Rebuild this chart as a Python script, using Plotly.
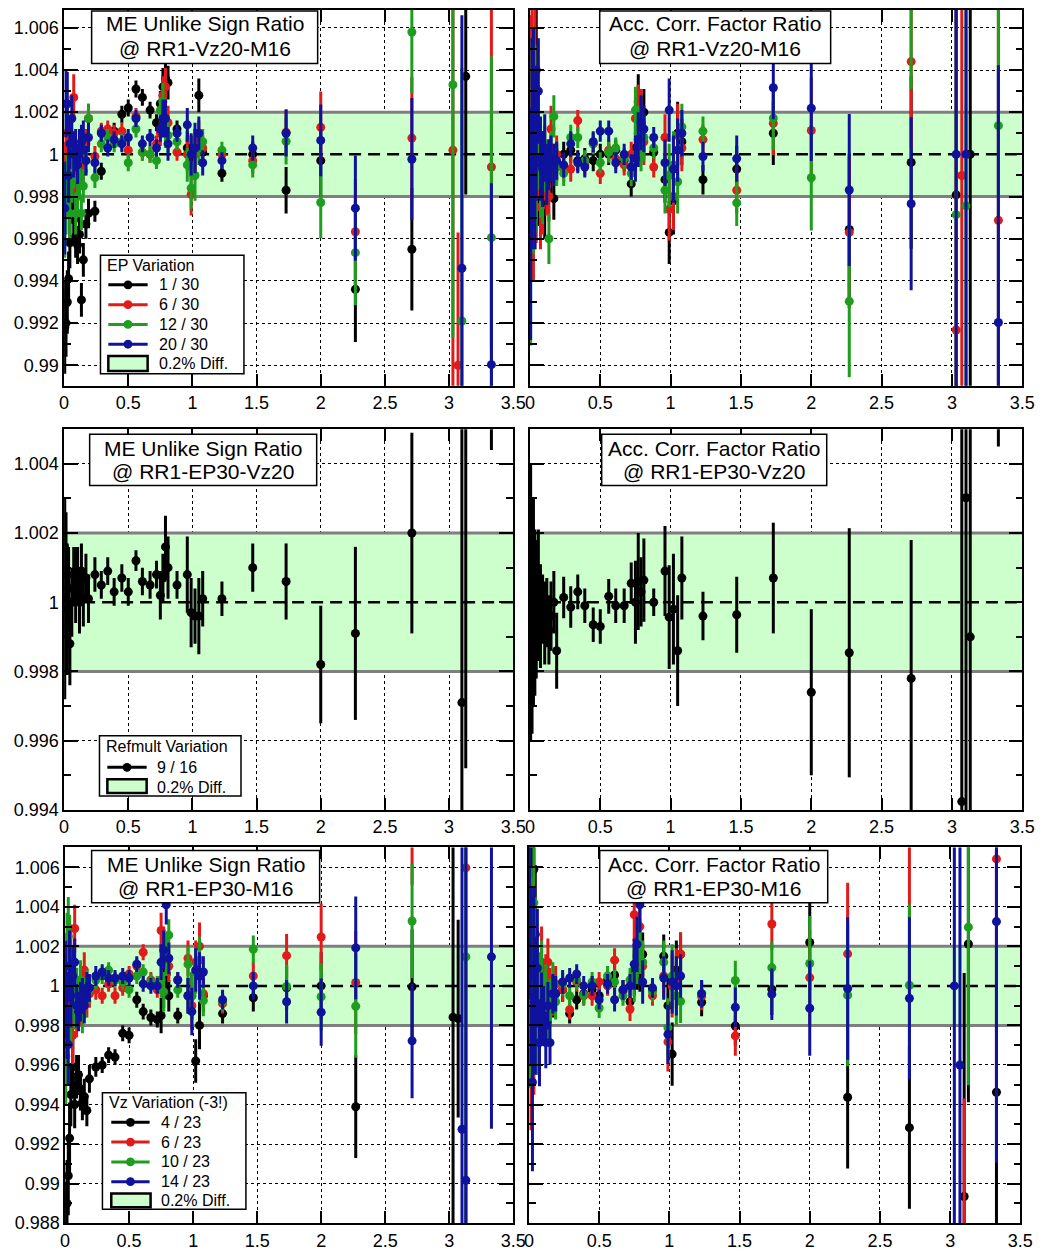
import plotly.graph_objects as go

W, H = 1060, 1259          # browser window
OFF = 8                    # default page (body) margin
FW, FH = W - 2 * OFF, H - 2 * OFF   # figure size so the page fits exactly, no overflow

# ---------------- data ----------------
X_BINS = [0.005, 0.015, 0.025, 0.035, 0.045,
          0.06, 0.075, 0.09, 0.105, 0.12,
          0.135, 0.15, 0.17, 0.19, 0.24,
          0.29, 0.34, 0.39, 0.45, 0.50,
          0.56, 0.61, 0.67, 0.72, 0.75,
          0.77, 0.79, 0.81, 0.88, 0.96,
          0.99, 1.02, 1.05, 1.08, 1.23,
          1.47, 1.73, 2.00, 2.27, 2.71,
          3.03, 3.07, 3.10, 3.13, 3.33]

# Top-left: ME Unlike Sign Ratio @ RR1-Vz20-M16 (EP variation)
TL_BLACK = [0.9918, 0.9920, 0.9930, 0.9941, 0.9958,
            0.9980, 0.9969, 0.9961, 0.9957, 0.9962,
            0.9931, 0.9950, 0.9967, 0.9972, 0.9973,
            0.9992, 1.0010, 1.0011, 1.0019, 1.0022,
            1.0031, 1.0027, 1.0021, 1.0015, 1.0024,
            1.0032, 1.0036, 1.0034, 1.0012, 1.0003,
            0.9999, 1.0000, 1.0028, 1.0001, 0.9991,
            1.0000, 0.9983, 0.9997, 0.9936, 0.9955,
            None, None, None, 1.0037, None]
TL_RED = [0.9984, 0.9996, 1.0010, 1.0003, 0.9992,
          0.9990, 1.0027, 0.9982, 0.9991, 1.0002,
          0.9995, 0.9992, 1.0005, 1.0017, 0.9999,
          1.0011, 1.0012, 1.0010, 1.0011, 1.0002,
          1.0018, 1.0001, 1.0000, 1.0005, 1.0010,
          1.0028, 1.0032, 1.0015, 1.0001, 1.0000,
          0.9981, 1.0000, 1.0008, 1.0003, 1.0000,
          0.9997, 1.00105, 1.00128, 0.99633, 1.00077,
          1.0002, 0.9900, None, None, 0.9994]
TL_GREEN = [0.9973, 0.9978, 0.9985, 0.9990, 0.9972,
            0.9988, 0.9995, 0.9972, 0.9980, 0.9990,
            0.9972, 0.9985, 0.9997, 1.0017, 0.9989,
            1.0005, 1.0008, 1.0005, 1.0006, 0.9996,
            1.0012, 1.0001, 1.0000, 0.9997, 1.0021,
            1.0025, 1.0012, 1.0009, 1.0006, 0.9995,
            0.9984, 0.9990, 1.0003, 1.0006, 1.0002,
            0.9995, 1.00062, 0.99772, 0.99534, 1.0058,
            1.0033, None, 0.9921, None, 0.99605]
TL_BLUE = [0.99745, 1.0024, 1.0024, 0.9990, 1.0005,
           1.0017, 1.0000, 1.0002, 0.9995, 1.0003,
           1.0006, 1.0008, 0.9997, 1.0008, 0.9996,
           1.0010, 1.0003, 1.0007, 1.0005, 1.0008,
           1.0017, 1.0005, 1.0008, 1.0003, 1.0012,
           1.0017, 1.0017, 1.0005, 1.0010, 1.0014,
           1.0000, 1.0003, 1.0010, 0.9996, 0.9997,
           1.0003, 1.0010, 1.00066, 0.99745, 0.99977,
           None, None, 0.9946, None, 0.99003]
TL_ERR = [0.0022, 0.0016, 0.0015, 0.0013, 0.0012,
          0.0011, 0.0011, 0.0010, 0.0009, 0.0009,
          0.0008, 0.0008, 0.0007, 0.0007, 0.0005,
          0.0004, 0.0004, 0.0004, 0.0004, 0.0004,
          0.0004, 0.0004, 0.0004, 0.0004, 0.0006,
          0.0009, 0.0009, 0.0008, 0.0004, 0.0008,
          0.0010, 0.0012, 0.0008, 0.0006, 0.0004,
          0.0006, 0.0011, 0.0017, 0.0025, 0.0029,
          0.0120, 0.0063, 0.0120, 0.0056, 0.0086]

# Top-right: Acc. Corr. Factor Ratio @ RR1-Vz20-M16
TR_BLACK = [1.0000, 0.9990, 1.0008, 0.9995, 1.0040,
            0.9991, 0.9985, 0.9993, 0.9976, 0.9990,
            0.9995, 0.9992, 0.9979, 0.9996, 1.0000,
            1.0002, 0.9997, 0.9998, 0.9997, 1.0000,
            1.0000, 1.0002, 0.9997, 0.9986, 1.0003,
            1.0025, 1.0015, 1.0020, 1.0001, 0.9988,
            0.9963, 0.9978, 1.0010, 1.0006, 0.9988,
            0.9993, 1.0010, None, 0.99644, 0.99962,
            0.99808, None, None, 1.0000, None]
TR_RED = [1.0011, 1.0020, 0.9985, 1.0030, 0.9990,
          1.0005, 0.9975, 0.9980, 0.9995, 0.9985,
          0.9980, 1.0012, 0.9995, 1.0000, 0.9993,
          0.9993, 1.0016, 0.9995, 1.0005, 0.9991,
          1.0002, 0.9998, 0.9995, 1.0000, 1.0017,
          1.0020, 1.0018, 1.0006, 0.9994, 1.0008,
          0.9974, 0.9980, 1.0009, 1.0003, 1.0007,
          0.9983, 1.00147, 1.00113, 0.9963, 1.0044,
          0.99167, 0.9990, None, None, 0.99687]
TR_GREEN = [0.99644, 1.0005, 0.9998, 1.0012, 0.9995,
            1.0008, 0.9990, 0.9985, 0.9998, 0.9993,
            0.9960, 1.0000, 1.0018, 0.9994, 0.9991,
            1.0008, 1.0008, 0.9997, 1.0005, 0.9996,
            1.0001, 1.0003, 0.9998, 0.9991, 1.0021,
            1.0010, 1.0005, 1.0008, 1.0003, 0.9983,
            0.9990, 0.9995, 0.9987, 1.0013, 1.0011,
            0.9977, 1.00172, 0.99889, 0.99303, 1.0072,
            0.99714, None, 0.99756, None, 1.00136]
TR_BLUE = [0.9967, 1.0005, 1.0015, 0.9995, 1.0010,
           1.0030, 0.9998, 0.9993, 1.0003, 0.9990,
           0.9995, 0.9998, 0.9995, 0.9997, 0.9995,
           1.0005, 0.9996, 0.9994, 1.0006, 1.0011,
           1.0011, 0.9996, 1.0000, 0.9994, 0.9998,
           1.0007, 1.0015, 1.0012, 1.0008, 0.9996,
           1.0021, 0.9993, 1.0002, 1.0010, 0.9999,
           0.9998, 1.00316, 1.00219, 0.99831, 0.99766,
           1.0000, None, 1.0000, None, 0.99203]
TR_ERR = [0.0055, 0.0050, 0.0045, 0.0040, 0.0032,
          0.0025, 0.0020, 0.0018, 0.0016, 0.0014,
          0.0012, 0.0011, 0.0010, 0.0009, 0.0006,
          0.0006, 0.0005, 0.0005, 0.0005, 0.0005,
          0.0005, 0.0005, 0.0005, 0.0006, 0.0011,
          0.0013, 0.0013, 0.0011, 0.0005, 0.0011,
          0.0015, 0.0016, 0.0015, 0.0011, 0.0007,
          0.0011, 0.0015, 0.0025, 0.0036, 0.0041,
          0.0200, 0.0200, 0.0200, 0.0200, 0.0122]

# Middle-left: ME Unlike Sign Ratio @ RR1-EP30-Vz20 (Refmult variation)
ML_BLACK = [1.0001, 1.0008, 0.9998, 1.0004, 0.9988,
            1.0000, 1.0008, 1.0005, 1.0008, 1.0000,
            1.0009, 1.0001, 1.0007, 1.0001, 1.0008,
            1.0005, 1.0009, 1.0003, 1.0007, 1.0003,
            1.0012, 1.0006, 1.0005, 1.0008, 1.0002,
            1.0007, 1.0016, 1.0010, 1.0005, 1.0008,
            0.9997, 0.9996, 0.9996, 1.0001, 1.0001,
            1.0010, 1.0006, 0.9982, 0.9991, 1.0020,
            None, None, 0.9971, 1.0060, 1.0090]
ML_ERR = [0.0029, 0.0018, 0.0019, 0.0012, 0.0012,
          0.0010, 0.0008, 0.0011, 0.0008, 0.0009,
          0.0008, 0.0008, 0.0007, 0.0007, 0.0005,
          0.0004, 0.0004, 0.0004, 0.0004, 0.0004,
          0.0003, 0.0004, 0.0004, 0.0004, 0.0007,
          0.0007, 0.0009, 0.0009, 0.0004, 0.0011,
          0.0010, 0.0008, 0.0011, 0.0008, 0.0005,
          0.0007, 0.0011, 0.0017, 0.0025, 0.0029,
          0.0000, 0.0000, 0.0090, 0.0108, 0.0046]

# Middle-right: Acc. Corr. Factor Ratio @ RR1-EP30-Vz20
MR_BLACK = [1.0000, 0.9995, 1.0000, 0.9997, 0.9998,
            1.0002, 0.9996, 0.9998, 0.9994, 0.9997,
            0.9992, 0.9996, 1.0000, 0.9986, 1.00014,
            0.99986, 1.0003, 0.9999, 0.99935, 0.9993,
            1.00017, 0.9999, 0.9999, 1.00055, 1.0000,
            1.0006, 1.0003, 1.00064, 1.0000, 1.0009,
            0.99957, 0.9998, 0.9986, 1.0007, 0.9996,
            0.99964, 1.0007, 0.9974, 0.99854, 0.9978,
            None, 0.99424, 1.00302, 0.9990, 1.0085]
MR_ERR = [0.0040, 0.0033, 0.0030, 0.0024, 0.0020,
          0.0019, 0.0015, 0.0010, 0.0012, 0.0010,
          0.0010, 0.0010, 0.0009, 0.0011, 0.0006,
          0.0006, 0.0005, 0.0005, 0.0005, 0.0005,
          0.0005, 0.0005, 0.0005, 0.0006, 0.0012,
          0.0014, 0.0010, 0.0012, 0.0004, 0.0013,
          0.0015, 0.0016, 0.0016, 0.0012, 0.0007,
          0.0011, 0.0016, 0.0024, 0.0036, 0.0040,
          0.0000, 0.0120, 0.0120, 0.0200, 0.0040]

# Bottom-left: ME Unlike Sign Ratio @ RR1-EP30-M16 (Vz variation)
BL_BLACK = [0.9876, 0.9890, 0.9904, 0.9923, 0.9945,
            0.9959, 0.9940, 0.9954, 0.9955, 0.9947,
            0.9941, 0.9944, 0.9937, 0.9953, 0.9959,
            0.9960, 0.9965, 0.9964, 0.9976, 0.9975,
            0.9993, 0.9987, 0.9984, 0.9983, 0.9985,
            0.9999, 1.0006, 0.9995, 0.9985, 0.9995,
            0.9995, 0.9962, 0.9980, 0.9995, 0.9986,
            0.9994, 0.9999, 1.0000, 0.99389, 0.99995,
            0.99842, 0.99835, None, None, None]
BL_RED = [0.9992, 0.9980, 1.0010, 0.9988, 1.0015,
          0.9975, 1.0029, 0.9985, 0.9995, 0.9990,
          1.0000, 1.0008, 0.9992, 0.9996, 0.9998,
          0.9995, 1.0001, 0.9995, 0.9999, 1.0006,
          1.0010, 1.0017, 1.0003, 0.9998, 1.0028,
          1.0020, 1.0015, 1.0010, 1.0003, 1.0014,
          0.9990, 1.0012, 1.0020, 0.9996, 0.9991,
          1.0005, 1.00153, 1.00247, 1.00017, 1.0080,
          None, None, None, 1.00597, None]
BL_GREEN = [0.99644, 1.0015, 1.0025, 1.0018, 0.9985,
            1.0005, 0.9990, 0.9998, 0.9993, 1.0003,
            0.9985, 0.9995, 1.0000, 0.9998, 1.0003,
            1.0005, 1.0008, 1.0003, 1.0002, 0.9998,
            1.0005, 1.0007, 1.0002, 1.0001, 1.0003,
            0.9997, 1.0015, 1.00257, 0.9998, 1.0011,
            0.9995, 1.0007, 1.0013, 0.99926, 0.9992,
            1.00185, 0.99997, 0.99945, 0.99897, 1.00328,
            None, None, None, 1.00147, None]
BL_BLUE = [0.9998, 0.9985, 0.99703, 1.0010, 0.9995,
           1.0005, 1.0012, 0.9990, 0.9987, 0.9992,
           0.9995, 0.9990, 0.9999, 0.9999, 1.0005,
           1.0007, 1.0004, 1.0004, 1.0005, 1.0004,
           1.0011, 1.0001, 1.0000, 1.0000, 1.0012,
           1.0018, 1.0041, 1.0014, 1.0003, 0.9995,
           0.9987, 1.0008, 1.0005, 1.0007, 0.9993,
           1.0000, 0.9992, 0.99867, 1.00192, 0.99722,
           None, None, 0.99275, 0.99017, 1.00147]
BL_ERR = [0.0025, 0.0022, 0.0020, 0.0018, 0.0016,
          0.0015, 0.0012, 0.0011, 0.0010, 0.0010,
          0.0009, 0.0009, 0.0008, 0.0007, 0.0005,
          0.0004, 0.0004, 0.0004, 0.0004, 0.0004,
          0.0004, 0.0004, 0.0004, 0.0004, 0.0009,
          0.0010, 0.0010, 0.0008, 0.0004, 0.0009,
          0.0012, 0.0011, 0.0012, 0.0008, 0.0005,
          0.0007, 0.0011, 0.0017, 0.0026, 0.0029,
          0.0200, 0.0050, 0.0200, 0.0200, 0.0087]

# Bottom-right: Acc. Corr. Factor Ratio @ RR1-EP30-M16
BR_BLACK = [1.0030, 1.0010, 1.0040, 1.0059, 1.0026,
            0.9990, 0.9985, 0.9993, 0.9990, 0.9985,
            0.9990, 0.9992, 0.9994, 0.9996, 0.9998,
            0.9986, 0.9993, 0.9996, 0.9998, 0.9995,
            1.0003, 1.00055, 0.9998, 0.9992, 1.0008,
            1.0012, 1.0011, 1.0016, 0.9998, 1.0015,
            0.9990, 0.99655, 1.0008, 1.0016, 0.99917,
            0.99797, 0.99983, 1.0022, 0.99437, 0.99283,
            None, None, 0.98935, 1.00212, 0.99462]
BR_RED = [1.0020, 0.9972, 1.0010, 0.9985, 1.0005,
          0.9990, 0.9980, 1.0012, 0.9995, 1.0003,
          1.0012, 0.9998, 0.9995, 1.0001, 0.9998,
          0.9988, 1.0002, 0.9995, 0.9995, 1.0002,
          1.0000, 1.0013, 0.9997, 0.99883, 1.0036,
          1.0023, 1.0030, 1.0010, 0.9995, 1.0005,
          0.99717, 1.0000, 1.0004, 1.0016, 0.99947,
          0.99747, 1.00313, 1.00042, 1.00162, 1.0075,
          None, None, 0.9830, None, 1.00642]
BR_GREEN = [0.99983, 1.0015, 0.9990, 1.0042, 1.0010,
            0.9985, 0.9995, 1.0005, 0.9990, 0.9998,
            0.9985, 0.9992, 1.0002, 0.9992, 1.0001,
            0.9995, 1.0003, 0.99955, 1.0002, 0.99888,
            1.0005, 1.0002, 0.9995, 1.0003, 1.0005,
            1.0015, 1.0020, 1.0012, 0.9997, 1.0012,
            0.99788, 1.0005, 0.9995, 0.99922, 0.9996,
            1.00027, 1.00092, 1.00113, 0.99953, 1.00003,
            None, None, None, 1.00297, None]
BR_BLUE = [1.00433, 1.0005, 0.99513, 1.0010, 0.9990,
           1.0009, 0.99713, 0.99888, 0.9985, 0.99713,
           0.9990, 0.99713, 0.9996, 0.9996, 1.0002,
           1.0004, 1.0006, 1.0000, 1.0000, 0.9993,
           1.0001, 0.9993, 0.9998, 1.0000, 1.0011,
           1.0021, 1.0041, 1.0002, 0.9999, 1.0004,
           0.99755, 1.0002, 1.0000, 1.0005, 0.9996,
           0.99892, 0.99958, 0.99887, 0.99987, 0.99937,
           1.0000, 0.9960, None, None, 1.00325]
BR_ERR = [0.0050, 0.0045, 0.0045, 0.0040, 0.0035,
          0.0030, 0.0022, 0.0018, 0.0015, 0.0013,
          0.0012, 0.0011, 0.0010, 0.0009, 0.0006,
          0.0005, 0.0005, 0.0005, 0.0005, 0.0005,
          0.0005, 0.0006, 0.0005, 0.0006, 0.0013,
          0.0014, 0.0014, 0.0011, 0.0005, 0.0011,
          0.0015, 0.0016, 0.0015, 0.0011, 0.0007,
          0.0010, 0.0013, 0.0024, 0.0036, 0.0041,
          0.0200, 0.0200, 0.0113, 0.0080, 0.0122]

X_TICKS = [0, 0.5, 1, 1.5, 2, 2.5, 3, 3.5]
X_TICK_TEXT = ["0", "0.5", "1", "1.5", "2", "2.5", "3", "3.5"]
Y_TICKS_TOP = [0.99, 0.992, 0.994, 0.996, 0.998, 1.0, 1.002, 1.004, 1.006]
Y_TICKS_TOP_TEXT = ["0.99", "0.992", "0.994", "0.996", "0.998", "1", "1.002", "1.004", "1.006"]
Y_TICKS_MID = [0.994, 0.996, 0.998, 1.0, 1.002, 1.004]
Y_TICKS_MID_TEXT = ["0.994", "0.996", "0.998", "1", "1.002", "1.004"]
Y_TICKS_BOT = [0.988, 0.99, 0.992, 0.994, 0.996, 0.998, 1.0, 1.002, 1.004, 1.006]
Y_TICKS_BOT_TEXT = ["0.988", "0.99", "0.992", "0.994", "0.996", "0.998", "1", "1.002", "1.004", "1.006"]
Y_MINOR = [0.989, 0.991, 0.993, 0.995, 0.997, 0.999, 1.001, 1.003, 1.005]

TITLES = [("ME Unlike Sign Ratio", "@ RR1-Vz20-M16"),
          ("Acc. Corr. Factor Ratio", "@ RR1-Vz20-M16"),
          ("ME Unlike Sign Ratio", "@ RR1-EP30-Vz20"),
          ("Acc. Corr. Factor Ratio", "@ RR1-EP30-Vz20"),
          ("ME Unlike Sign Ratio", "@ RR1-EP30-M16"),
          ("Acc. Corr. Factor Ratio", "@ RR1-EP30-M16")]

LEG_TL_TITLE = "EP Variation"
LEG_TL_LABELS = ["1 / 30", "6 / 30", "12 / 30", "20 / 30"]
LEG_ML_TITLE = "Refmult Variation"
LEG_ML_LABELS = ["9 / 16"]
LEG_BL_TITLE = "Vz Variation (-3!)"
LEG_BL_LABELS = ["4 / 23", "6 / 23", "10 / 23", "14 / 23"]
BAND_LABEL = "0.2% Diff."

# ---------------- style ----------------
COLORS = ["#000000", "#e31a1a", "#1e9e1e", "#0f129c"]
BAND_FILL = "#ccffcc"
BAND_EDGE = "#7f7f7f"
FONT = "Liberation Sans, Arial, sans-serif"


def px(X):
    """window pixel x -> paper fraction"""
    return (X - OFF) / FW


def py(Y):
    """window pixel y -> paper fraction"""
    return 1 - (Y - OFF) / FH


PANELS = [
    dict(xpx=(60, 517), ypx=(8, 388), yr=(0.98903, 1.006845), yt=(Y_TICKS_TOP, Y_TICKS_TOP_TEXT), lab=True,
         series=[TL_BLACK, TL_RED, TL_GREEN, TL_BLUE], err=TL_ERR, box=(88, 9, 318, 62)),
    dict(xpx=(534, 1035), ypx=(8, 388), yr=(0.98903, 1.006845), yt=(Y_TICKS_TOP, Y_TICKS_TOP_TEXT), lab=False,
         series=[TR_BLACK, TR_RED, TR_GREEN, TR_BLUE], err=TR_ERR, box=(605, 9, 840, 62)),
    dict(xpx=(60, 517), ypx=(432, 817), yr=(0.994, 1.005), yt=(Y_TICKS_MID, Y_TICKS_MID_TEXT), lab=True,
         series=[ML_BLACK], err=ML_ERR, box=(86, 437, 317, 489)),
    dict(xpx=(534, 1035), ypx=(432, 817), yr=(0.994, 1.005), yt=(Y_TICKS_MID, Y_TICKS_MID_TEXT), lab=False,
         series=[MR_BLACK], err=MR_ERR, box=(607, 437, 836, 489)),
    dict(xpx=(61, 517), ypx=(855, 1235), yr=(0.988, 1.007), yt=(Y_TICKS_BOT, Y_TICKS_BOT_TEXT), lab=True,
         series=[BL_BLACK, BL_RED, BL_GREEN, BL_BLUE], err=BL_ERR, box=(88, 858, 320, 911)),
    dict(xpx=(533, 1033), ypx=(855, 1235), yr=(0.988, 1.007), yt=(Y_TICKS_BOT, Y_TICKS_BOT_TEXT), lab=False,
         series=[BR_BLACK, BR_RED, BR_GREEN, BR_BLUE], err=BR_ERR, box=(605, 858, 837, 911)),
]

fig = go.Figure()
layout = dict(width=FW, height=FH, autosize=False, margin=dict(l=0, r=0, t=0, b=0, pad=0),
              paper_bgcolor="white", plot_bgcolor="white", showlegend=False,
              font=dict(family=FONT, color="black"))
shapes = []
annotations = []

for i, p in enumerate(PANELS, start=1):
    xa = "xaxis" if i == 1 else f"xaxis{i}"
    ya = "yaxis" if i == 1 else f"yaxis{i}"
    xr = "x" if i == 1 else f"x{i}"
    yr = "y" if i == 1 else f"y{i}"
    layout[xa] = dict(domain=[px(p["xpx"][0]), px(p["xpx"][1])], anchor=yr, range=[0, 3.5],
                      tickmode="array", tickvals=X_TICKS, ticktext=X_TICK_TEXT,
                      ticks="inside", ticklen=12, tickwidth=1.5, tickcolor="black",
                      showline=True, linecolor="black", linewidth=1.5, mirror="ticks",
                      showgrid=True, gridcolor="black", gridwidth=1, griddash="dot",
                      zeroline=False, fixedrange=True,
                      tickfont=dict(family=FONT, size=18, color="black"))
    layout[ya] = dict(domain=[py(p["ypx"][1]), py(p["ypx"][0])], anchor=xr, range=list(p["yr"]),
                      tickmode="array", tickvals=p["yt"][0], ticktext=p["yt"][1],
                      showticklabels=p["lab"],
                      ticks="inside", ticklen=14, tickwidth=1.5, tickcolor="black",
                      minor=dict(tickvals=Y_MINOR, ticks="inside", ticklen=7, tickwidth=1.5,
                                 tickcolor="black", showgrid=False),
                      showline=True, linecolor="black", linewidth=1.5, mirror="ticks",
                      showgrid=True, gridcolor="black", gridwidth=1, griddash="dot",
                      zeroline=False, fixedrange=True,
                      tickfont=dict(family=FONT, size=18, color="black"))

    # green 0.2% band, its edges, and dashed unity line
    shapes.append(dict(type="rect", xref=xr, yref=yr, x0=0, x1=3.5, y0=0.998, y1=1.002,
                       fillcolor=BAND_FILL, line=dict(width=0), layer="between"))
    for yv in (0.998, 1.002):
        shapes.append(dict(type="line", xref=xr, yref=yr, x0=0, x1=3.5, y0=yv, y1=yv,
                           line=dict(color=BAND_EDGE, width=3), layer="between"))
    shapes.append(dict(type="line", xref=xr, yref=yr, x0=0, x1=3.5, y0=1.0, y1=1.0,
                       line=dict(color="black", width=2.5, dash="12px,7px"), layer="between"))

    for k, ys in enumerate(p["series"]):
        col = COLORS[k]
        fig.add_trace(go.Scatter(
            x=X_BINS, y=ys, mode="markers", xaxis=xr, yaxis=yr,
            marker=dict(color=col, size=9, line=dict(width=0)),
            error_y=dict(type="data", array=p["err"], visible=True, color=col, thickness=3, width=0),
            hoverinfo="skip"))

    # title box
    bx0, by0, bx1, by1 = p["box"]
    shapes.append(dict(type="rect", xref="paper", yref="paper", x0=px(bx0), x1=px(bx1),
                       y0=py(by1), y1=py(by0), fillcolor="white",
                       line=dict(color="black", width=1.5), layer="above"))
    t1, t2 = TITLES[i - 1]
    cx = (bx0 + bx1) / 2
    ytop = 7 if by0 < 10 else by0
    h = by1 - ytop
    for txt, yy in ((t1, ytop + h * 0.27), (t2, ytop + h * 0.73)):
        annotations.append(dict(text=txt, xref="paper", yref="paper", x=px(cx), y=py(yy),
                                xanchor="center", yanchor="middle", showarrow=False,
                                font=dict(family=FONT, size=21, color="black")))


def add_legend(box, title, title_y, labels, entry_ys, lx0, lx1, tx, band_box, band_y, colors):
    x0, y0, x1, y1 = box
    shapes.append(dict(type="rect", xref="paper", yref="paper", x0=px(x0), x1=px(x1),
                       y0=py(y1), y1=py(y0), fillcolor="white",
                       line=dict(color="black", width=1.5), layer="above"))
    annotations.append(dict(text=title, xref="paper", yref="paper", x=px(x0 + 5), y=py(title_y),
                            xanchor="left", yanchor="middle", showarrow=False,
                            font=dict(family=FONT, size=16, color="black")))
    mx = (lx0 + lx1) / 2
    r = 4.5
    for lab, ey, col in zip(labels, entry_ys, colors):
        shapes.append(dict(type="line", xref="paper", yref="paper", x0=px(lx0), x1=px(lx1),
                           y0=py(ey), y1=py(ey), line=dict(color=col, width=3), layer="above"))
        shapes.append(dict(type="circle", xref="paper", yref="paper", x0=px(mx - r), x1=px(mx + r),
                           y0=py(ey + r), y1=py(ey - r), fillcolor=col,
                           line=dict(color=col, width=0), layer="above"))
        annotations.append(dict(text=lab, xref="paper", yref="paper", x=px(tx), y=py(ey),
                                xanchor="left", yanchor="middle", showarrow=False,
                                font=dict(family=FONT, size=16, color="black")))
    bx0, by0, bx1, by1 = band_box
    shapes.append(dict(type="rect", xref="paper", yref="paper", x0=px(bx0), x1=px(bx1),
                       y0=py(by1), y1=py(by0), fillcolor=BAND_FILL,
                       line=dict(color="black", width=2.5), layer="above"))
    annotations.append(dict(text=BAND_LABEL, xref="paper", yref="paper", x=px(tx), y=py(band_y),
                            xanchor="left", yanchor="middle", showarrow=False,
                            font=dict(family=FONT, size=16, color="black")))


add_legend((97, 256, 243, 376), LEG_TL_TITLE, 266, LEG_TL_LABELS, [286, 306, 326, 346],
           105, 145, 155, (105, 358, 145, 373), 366, COLORS)
add_legend((96, 742, 240, 803), LEG_ML_TITLE, 753, LEG_ML_LABELS, [774],
           104, 144, 152, (104, 786, 144, 800), 794, COLORS)
add_legend((99, 1103, 245, 1221), LEG_BL_TITLE, 1113, LEG_BL_LABELS, [1133, 1153, 1173, 1193],
           108, 147, 157, (108, 1205, 148, 1219), 1212, COLORS)

layout["shapes"] = shapes
layout["annotations"] = annotations
fig.update_layout(**layout)
fig.write_html("out.html", config={"responsive": False, "displayModeBar": False})
